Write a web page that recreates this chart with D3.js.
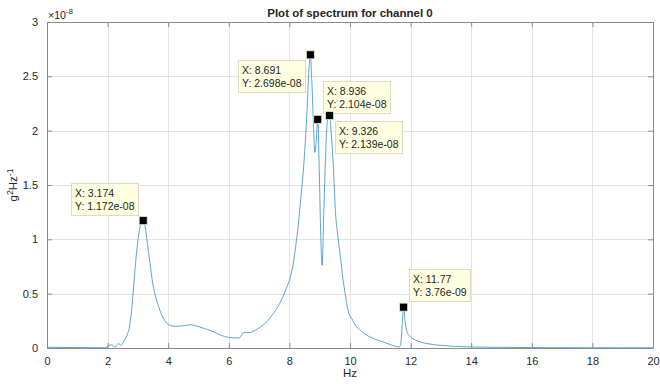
<!DOCTYPE html>
<html>
<head>
<meta charset="utf-8">
<script src="https://cdn.jsdelivr.net/npm/d3@7"></script>
<style>
  html, body { margin: 0; padding: 0; background: #fff; }
  svg { display: block; }
  text { font-family: "Liberation Sans", Arial, Helvetica, sans-serif; fill: #262626; }
</style>
</head>
<body>
<svg id="chart" width="660" height="384"></svg>
<script>
// Power spectrum of channel 0 (values in units of 1e-8 g^2/Hz)
const freq = [0, 0.5, 1.0, 1.5, 1.9, 1.98, 2.07, 2.14, 2.2, 2.25, 2.31, 2.36, 2.44, 2.5, 2.55, 2.61, 2.66,
  2.71, 2.75, 2.81, 2.86, 2.91, 2.96, 3.01, 3.06, 3.11, 3.174, 3.22, 3.27, 3.32, 3.37, 3.42, 3.47, 3.52,
  3.57, 3.63, 3.71, 3.79, 3.88, 3.96, 4.05, 4.15, 4.3, 4.45, 4.6, 4.75, 4.9, 5.05, 5.2, 5.4, 5.6, 5.8, 6.0,
  6.15, 6.3, 6.35, 6.4, 6.45, 6.5, 6.6, 6.71, 6.85, 7.0, 7.15, 7.3, 7.45, 7.6, 7.75, 7.9, 8.03, 8.14, 8.2,
  8.3, 8.4, 8.47, 8.54, 8.6, 8.642, 8.691, 8.74, 8.789, 8.838, 8.887, 8.936, 8.984, 9.033, 9.08, 9.13, 9.18,
  9.23, 9.277, 9.326, 9.375, 9.42, 9.47, 9.52, 9.57, 9.62, 9.68, 9.76, 9.84, 9.95, 10.06, 10.2, 10.34, 10.6,
  10.89, 11.2, 11.45, 11.62, 11.67, 11.72, 11.77, 11.82, 11.87, 11.94, 12.0, 12.15, 12.32, 12.6, 12.97,
  13.4, 13.96, 15, 16, 17, 18, 19, 20];
const psd = [0.006, 0.005, 0.004, 0.003, 0.003, 0.008, 0.025, 0.03, 0.015, 0.008, 0.03, 0.04, 0.025, 0.045,
  0.07, 0.1, 0.13, 0.18, 0.25, 0.40, 0.57, 0.74, 0.89, 1.01, 1.10, 1.155, 1.172, 1.14, 1.06, 0.95, 0.84, 0.74,
  0.63, 0.55, 0.49, 0.43, 0.36, 0.30, 0.255, 0.225, 0.21, 0.202, 0.200, 0.203, 0.21, 0.213, 0.205, 0.193,
  0.178, 0.16, 0.135, 0.112, 0.098, 0.094, 0.092, 0.093, 0.11, 0.135, 0.142, 0.14, 0.142, 0.16, 0.185, 0.215,
  0.255, 0.31, 0.37, 0.45, 0.55, 0.65, 0.80, 0.92, 1.15, 1.45, 1.67, 1.97, 2.3, 2.55, 2.698, 2.45, 2.1, 1.80,
  1.9, 2.104, 1.65, 1.05, 0.76, 1.2, 1.65, 2.0, 2.12, 2.139, 2.0, 1.82, 1.55, 1.25, 1.1, 0.98, 0.85, 0.65,
  0.5, 0.33, 0.27, 0.2, 0.163, 0.11, 0.075, 0.045, 0.02, 0.01, 0.03, 0.2, 0.376, 0.24, 0.16, 0.12, 0.10,
  0.075, 0.055, 0.038, 0.025, 0.016, 0.01, 0.006, 0.004, 0.003, 0.002, 0.002, 0.002];
const yScaleExp = -8;

// Data tips (actual units)
const tipX = [3.174, 8.691, 8.936, 9.326, 11.77];
const tipY = [1.172e-08, 2.698e-08, 2.104e-08, 2.139e-08, 3.76e-09];

const xTicks = [0, 2, 4, 6, 8, 10, 12, 14, 16, 18, 20];
const yTicks = [0, 0.5, 1, 1.5, 2, 2.5, 3];

const titleText = "Plot of spectrum for channel 0";
const xLabelText = "Hz";

const svg = d3.select("#chart");
const m = { left: 47, right: 7, top: 22, bottom: 36 };
const W = 660, H = 384;
const x = d3.scaleLinear().domain([0, 20]).range([m.left, W - m.right]);
const y = d3.scaleLinear().domain([0, 3]).range([H - m.bottom, m.top]);
const x0 = x.range()[0], x1 = x.range()[1], y0 = y.range()[0], y1 = y.range()[1];

// grid
const grid = svg.append("g").attr("stroke", "#e4e4e4").attr("stroke-width", 1);
xTicks.slice(1, -1).forEach(t => grid.append("line")
  .attr("x1", Math.round(x(t)) + 0.5).attr("x2", Math.round(x(t)) + 0.5).attr("y1", y1).attr("y2", y0));
yTicks.slice(1, -1).forEach(t => grid.append("line")
  .attr("y1", Math.round(y(t)) + 0.5).attr("y2", Math.round(y(t)) + 0.5).attr("x1", x0).attr("x2", x1));

// spectrum line
const line = d3.line().x(i => x(freq[i])).y(i => y(psd[i])).curve(d3.curveMonotoneX);
svg.append("path").attr("d", line(d3.range(freq.length)))
  .attr("fill", "none").attr("stroke", "#0072BD").attr("stroke-width", 0.8).attr("opacity", 0.8);

// axes (inward ticks on all four sides)
const axColor = "#8a8a8a";
const xb = d3.axisBottom(x).tickValues(xTicks).tickSizeInner(-5).tickSizeOuter(0).tickPadding(9);
const xt = d3.axisTop(x).tickValues(xTicks).tickSizeInner(-5).tickSizeOuter(0).tickFormat("");
const yl = d3.axisLeft(y).tickValues(yTicks).tickSizeInner(-5).tickSizeOuter(0).tickPadding(9)
  .tickFormat(d => String(d));
const yr = d3.axisRight(y).tickValues(yTicks).tickSizeInner(-5).tickSizeOuter(0).tickFormat("");
function styleAxis(g) {
  g.selectAll("path").attr("stroke", axColor);
  g.selectAll("line").attr("stroke", axColor);
  g.selectAll("text").attr("font-size", 11).attr("fill", "#262626")
    .attr("font-family", '"Liberation Sans", Arial, Helvetica, sans-serif');
}
svg.append("g").attr("transform", `translate(0,${y0})`).call(xb).call(styleAxis);
svg.append("g").attr("transform", `translate(0,${y1})`).call(xt).call(styleAxis);
svg.append("g").attr("transform", `translate(${x0},0)`).call(yl).call(styleAxis);
svg.append("g").attr("transform", `translate(${x1},0)`).call(yr).call(styleAxis);
svg.selectAll(".domain").attr("stroke", axColor);

// exponent label
const ex = svg.append("text").attr("x", x0 + 1).attr("y", y1 - 3.5).attr("font-size", 10.5);
ex.append("tspan").text("\u00d710");
ex.append("tspan").attr("dy", -5).attr("font-size", 8).text(String(yScaleExp));

// title & axis labels
svg.append("text").attr("x", (x0 + x1) / 2).attr("y", 17).attr("text-anchor", "middle")
  .attr("font-size", 11.5).attr("font-weight", "bold").attr("fill", "#000").text(titleText);
svg.append("text").attr("x", (x0 + x1) / 2).attr("y", 377).attr("text-anchor", "middle")
  .attr("font-size", 11.5).text(xLabelText);
const yl2 = svg.append("text").attr("transform", `translate(17,${(y0 + y1) / 2}) rotate(-90)`)
  .attr("text-anchor", "middle").attr("font-size", 11.5);
yl2.append("tspan").text("g");
yl2.append("tspan").attr("dy", -4).attr("font-size", 8.5).text("2");
yl2.append("tspan").attr("dy", 4).text("Hz");
yl2.append("tspan").attr("dy", -4).attr("font-size", 8.5).text("-1");

// data tips
function fmtG(v) {
  if (Math.abs(v) < 1e-4) {
    let [mant, e] = v.toExponential(3).split("e");
    mant = mant.replace(/\.?0+$/, "");
    const sign = e[0] === "-" ? "-" : "+";
    let d = e.replace(/[+-]/, "");
    if (d.length < 2) d = "0" + d;
    return mant + "e" + sign + d;
  }
  return String(+v.toPrecision(4));
}
// box placement per tip: horizontal side (-1 left, 1 right), vertical side (-1 above, 1 below)
const tipSide = [[-1, -1], [-1, 1], [1, -1], [1, 1], [1, -1]];
const tipLayer = svg.append("g");
tipX.forEach((tx, i) => {
  const px = x(tx), py = y(tipY[i] / Math.pow(10, yScaleExp));
  const g = tipLayer.append("g");
  const t1 = g.append("text").attr("font-size", 10.5).attr("fill", "#000").text("X: " + fmtG(tx));
  const t2 = g.append("text").attr("font-size", 10.5).attr("fill", "#000").text("Y: " + fmtG(tipY[i]));
  const tw = Math.max(t1.node().getComputedTextLength(), t2.node().getComputedTextLength());
  const bw = Math.round(tw + 7), bh = 32;
  const [sx, sy] = tipSide[i];
  const bx = sx < 0 ? px - 5 - bw : px + 5;
  const by = sy < 0 ? py - 6 - bh : py + 5;
  g.insert("rect", "text").attr("x", Math.round(bx) + 0.5).attr("y", Math.round(by) + 0.5)
    .attr("width", bw).attr("height", bh).attr("fill", "#ffffe1").attr("stroke", "#dcdcc4");
  t1.attr("x", Math.round(bx) + 4).attr("y", Math.round(by) + 14);
  t2.attr("x", Math.round(bx) + 4).attr("y", Math.round(by) + 27);
  tipLayer.append("rect").attr("x", px - 4).attr("y", py - 4).attr("width", 8).attr("height", 8)
    .attr("fill", "#000").attr("stroke", "#e8e8c0").attr("stroke-width", 0.8);
});
</script>
</body>
</html>
